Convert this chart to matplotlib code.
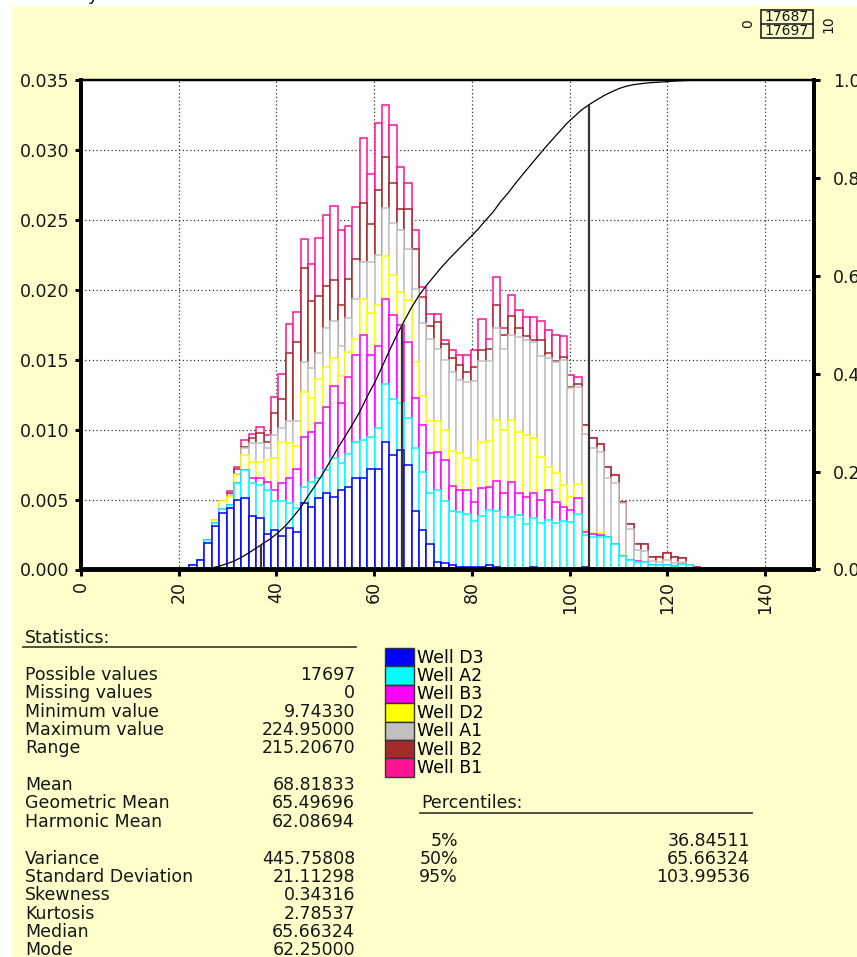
import numpy as np
import matplotlib
matplotlib.use("Agg")
import matplotlib.pyplot as plt
from matplotlib.patches import Rectangle

# histogram classes
bin_start = 22.2
bin_width = 1.515

wells = ["Well D3", "Well A2", "Well B3", "Well D2", "Well A1", "Well B2", "Well B1"]
well_colors = ["#0000ff", "#00ffff", "#ff00ff", "#ffff00", "#c0c0c0", "#a52a2a", "#ff1493"]

# relative frequency per class and well (x 1e-3), stacked bottom to top
well_d3 = [0.3, 0.7, 1.9, 3.1, 4.05, 4.4, 5.0, 5.08, 3.84, 3.65,
           2.56, 2.82, 2.41, 2.98, 2.70, 4.72, 4.48, 5.08, 5.44, 5.20,
           5.72, 5.91, 6.51, 6.51, 7.18, 7.18, 9.13, 8.22, 8.53, 7.46,
           4.18, 2.82, 1.80, 0.56, 0.45, 0.30, 0.15, 0.15, 0.15, 0.20,
           0.30, 0.20, 0.05, 0, 0, 0, 0.20, 0, 0, 0,
           0, 0, 0, 0.15, 0.10, 0, 0, 0, 0, 0,
           0, 0, 0, 0, 0, 0, 0, 0, 0,
           0, 0, 0, 0, 0, 0, 0, 0, 0, 0, 0, 0, 0]
well_a2 = [0, 0, 0.2, 0.25, 0.3, 0.2, 1.2, 2.02, 2.36, 2.38,
           3.12, 2.09, 2.48, 1.74, 1.71, 1.19, 1.79, 1.43, 1.66, 2.74,
           1.86, 2.38, 2.62, 2.74, 2.31, 2.95, 4.16, 3.96, 3.34, 3.38,
           4.52, 4.12, 3.70, 5.14, 4.45, 3.90, 3.95, 3.85, 3.35, 3.64,
           3.98, 3.95, 3.73, 3.73, 3.90, 3.25, 3.46, 3.30, 3.54, 3.35,
           3.45, 3.40, 3.97, 2.30, 2.25, 2.35, 2.35, 1.83, 0.97, 0.68,
           0.56, 0.56, 0.33, 0.33, 0.33, 0.25, 0.40, 0.30, 0,
           0, 0.08, 0.08, 0.06, 0, 0, 0, 0.06, 0, 0, 0, 0.05, 0]
well_b3 = [0, 0, 0, 0, 0, 0, 0, 0, 0.31, 0.48,
           0.59, 0.81, 1.33, 1.79, 2.77, 3.58, 3.53, 4.00, 4.53, 5.19,
           4.29, 5.48, 6.19, 7.54, 5.88, 5.86, 6.03, 6.00, 5.59, 5.43,
           3.57, 3.36, 2.80, 2.70, 2.90, 1.80, 1.60, 1.70, 1.30, 1.96,
           1.62, 2.15, 1.71, 2.55, 1.54, 1.96, 1.78, 1.67, 2.14, 1.50,
           1.04, 0.85, 1.12, 0.20, 0.20, 0.15, 0, 0, 0, 0,
           0.07, 0, 0, 0, 0, 0, 0, 0.05, 0.10,
           0, 0, 0, 0, 0, 0, 0.06, 0, 0, 0, 0.07, 0, 0]
well_d2 = [0, 0, 0, 0.2, 0.55, 0.6, 0.55, 1.08, 1.15, 1.15,
           1.55, 2.22, 2.91, 2.50, 1.66, 3.21, 2.47, 3.09, 2.85, 2.00,
           1.97, 1.79, 1.19, 2.58, 3.00, 2.95, 3.07, 2.90, 2.38, 2.98,
           2.57, 2.07, 2.30, 2.20, 2.15, 2.47, 2.60, 2.26, 3.06, 3.33,
           3.30, 4.38, 4.48, 4.40, 4.41, 4.40, 3.93, 3.09, 1.67, 2.02,
           1.55, 0.96, 1.02, 0.20, 0.09, 0.14, 0, 0, 0.07, 0,
           0, 0, 0, 0, 0, 0, 0, 0, 0,
           0, 0, 0, 0, 0, 0, 0, 0, 0, 0, 0, 0, 0]
well_a1 = [0, 0, 0, 0, 0, 0.1, 0.05, 0.48, 1.35, 1.35,
           0.84, 1.67, 1.00, 1.59, 1.76, 2.14, 2.14, 1.91, 2.79, 2.62,
           2.15, 2.43, 2.86, 2.62, 3.62, 3.57, 3.45, 3.69, 4.41, 3.64,
           5.24, 5.23, 5.90, 5.20, 5.05, 5.63, 5.24, 5.44, 5.64, 5.81,
           5.70, 6.62, 5.83, 6.07, 6.75, 6.79, 6.93, 7.24, 7.75, 7.98,
           8.96, 7.74, 6.95, 6.85, 6.02, 5.78, 4.17, 4.33, 3.69, 2.19,
           0.77, 0.79, 0.30, 0.23, 0.35, 0.24, 0.15, 0, 0,
           0, 0, 0, 0, 0, 0, 0, 0, 0, 0, 0, 0, 0]
well_b2 = [0, 0, 0, 0, 0, 0.2, 0.4, 0.12, 0.36, 0.72,
           0.47, 1.59, 2.05, 4.88, 5.67, 6.74, 4.79, 4.05, 3.00, 2.93,
           2.90, 2.76, 2.81, 4.23, 2.73, 4.59, 3.65, 2.88, 1.54, 2.90,
           2.86, 1.87, 0.90, 1.90, 1.10, 1.00, 1.09, 0.75, 1.00, 0.72,
           0.90, 1.62, 0.95, 1.35, 0.70, 0.30, 0.10, 1.10, 0.35, 0.05,
           0.16, 0.11, 0.19, 0.60, 0.71, 0.55, 0.83, 0.59, 0.12, 0.38,
           0.43, 0.48, 0.29, 0.36, 0.48, 0.43, 0.25, 0, 0.11,
           0, 0, 0, 0, 0, 0, 0, 0, 0, 0, 0, 0, 0]
well_b1 = [0, 0, 0, 0, 0, 0.1, 0.15, 0.47, 0.31, 0.43,
           0.48, 1.10, 1.83, 2.10, 2.14, 2.07, 2.67, 4.14, 5.10, 5.28,
           5.36, 3.81, 3.74, 4.62, 3.57, 4.84, 3.73, 4.10, 2.98, 1.86,
           1.31, 0.75, 0.90, 0.60, 0.30, 0.58, 0.72, 1.20, 1.16, 2.22,
           0.68, 1.96, 0.55, 1.56, 1.29, 1.32, 1.66, 1.38, 1.66, 1.85,
           1.52, 0.84, 0.48, 0.05, 0.03, 0, 0, 0, 0, 0,
           0, 0, 0, 0, 0, 0, 0, 0, 0,
           0, 0, 0, 0, 0, 0, 0, 0, 0, 0, 0, 0, 0]

# summary statistics
stat_names = ["Possible values", "Missing values", "Minimum value", "Maximum value", "Range",
              "Mean", "Geometric Mean", "Harmonic Mean",
              "Variance", "Standard Deviation", "Skewness", "Kurtosis", "Median", "Mode"]
stat_values = [17697, 0, 9.74330, 224.95000, 215.20670,
               68.81833, 65.49696, 62.08694,
               445.75808, 21.11298, 0.34316, 2.78537, 65.66324, 62.25000]
pct_levels = [5, 50, 95]
pct_values = [36.84511, 65.66324, 103.99536]

W, H = 857, 957
BG = "#ffffcc"
INK = "#151515"

fig = plt.figure(figsize=(W / 100, H / 100), dpi=100, facecolor="white")

# page layer, pixel coordinates (y down)
page = fig.add_axes([0, 0, 1, 1], zorder=-1)
page.set_xlim(0, W)
page.set_ylim(H, 0)
page.axis("off")
page.add_patch(Rectangle((12, 6), W, H, facecolor=BG, lw=0))
page.text(88, 0, "y", fontsize=13, ha="left", va="baseline", color=INK)

# histogram
ax = fig.add_axes([81 / W, 1 - 569.5 / H, (814 - 81) / W, (569.5 - 80) / H])
ax.set_facecolor("white")

dens = np.array([well_d3, well_a2, well_b3, well_d2, well_a1, well_b2, well_b1]) * 1e-3
stack = np.cumsum(dens, axis=0)
edges = bin_start + bin_width * np.arange(dens.shape[1] + 1)

# tallest stack first so each lower layer is outlined over it
for j in range(len(wells) - 1, -1, -1):
    ax.bar(edges[:-1], stack[j], width=bin_width, align="edge",
           facecolor="white", edgecolor=well_colors[j], linewidth=1.1)

ax.set_xlim(0, 150)
ax.set_ylim(0, 0.035)
ax.set_xticks(np.arange(0, 141, 20))
ax.set_yticks(np.arange(0, 0.0351, 0.005))
ax.yaxis.set_major_formatter(matplotlib.ticker.FormatStrFormatter("%.3f"))
ax.set_axisbelow(True)
ax.grid(True, linestyle=(0, (1, 2)), color="#333333", linewidth=0.9)
ax.tick_params(axis="both", direction="out", length=4.5, width=2.2,
               labelsize=12.5, labelcolor=INK, pad=4)
ax.tick_params(axis="x", labelrotation=90)

# cumulative curve and percentile markers
total = stack[-1]
cdf = np.concatenate([[0], np.cumsum(total)]) / total.sum()
ax2 = ax.twinx()
ax2.plot(edges, cdf, color="black", linewidth=0.9)
ax2.vlines(pct_values, 0, np.array(pct_levels) / 100, colors="#333333", linewidth=1.6)
ax2.set_ylim(0, 1.0)
ax2.set_yticks(np.arange(0, 1.01, 0.2))
ax2.yaxis.set_major_formatter(matplotlib.ticker.FormatStrFormatter("%.1f"))
ax2.tick_params(axis="y", direction="out", length=4.5, width=2.2,
                labelsize=12.5, labelcolor=INK, pad=9)
for a in (ax, ax2):
    for side, s in a.spines.items():
        s.set_linewidth(1.6 if side == "top" else 2.8)

# statistics block
page.text(25, 638, "Statistics:", fontsize=12.5, ha="left", va="center", color=INK)
page.plot([23, 356], [647, 647], color="#444433", linewidth=1.3)
rows = [0, 1, 2, 3, 4, 6, 7, 8, 10, 11, 12, 13, 14, 15]
for k, name, v in zip(rows, stat_names, stat_values):
    y = 675 + 18.35 * k
    txt = f"{v:.5f}" if isinstance(v, float) else str(v)
    page.text(25, y, name, fontsize=12.5, ha="left", va="center", color=INK)
    page.text(355, y, txt, fontsize=12.5, ha="right", va="center", color=INK)

# legend
for j, (name, c) in enumerate(zip(wells, well_colors)):
    y0 = 648 + 18.4 * j
    page.add_patch(Rectangle((385, y0), 29, 18.4, facecolor=c, edgecolor="#333333", lw=1.0))
    page.text(417, y0 + 9.6, name, fontsize=12.5, ha="left", va="center", color="black")

# percentiles block
page.text(421, 803, "Percentiles:", fontsize=12.5, ha="left", va="center", color=INK)
page.plot([420, 752], [813, 813], color="#444433", linewidth=1.3)
for k, (p, v) in enumerate(zip(pct_levels, pct_values)):
    y = 841 + 18.2 * k
    page.text(458, y, f"{p}%", fontsize=12.5, ha="right", va="center", color=INK)
    page.text(750, y, f"{v:.5f}", fontsize=12.5, ha="right", va="center", color=INK)

# sample count box
page.add_patch(Rectangle((761, 10), 52, 27.5, fill=False, edgecolor="#222222", lw=1.2))
page.plot([761, 813], [24, 24], color="#222222", linewidth=1.2)
page.text(787, 17.2, "17687", fontsize=10, ha="center", va="center", color=INK)
page.text(787, 31, "17697", fontsize=10, ha="center", va="center", color=INK)
page.text(748, 24, "0", fontsize=10, rotation=90, ha="center", va="center", color=INK)
page.text(828, 24, "10", fontsize=10, rotation=90, ha="center", va="center", color=INK)

fig.savefig("out.png", dpi=100, facecolor="white")
